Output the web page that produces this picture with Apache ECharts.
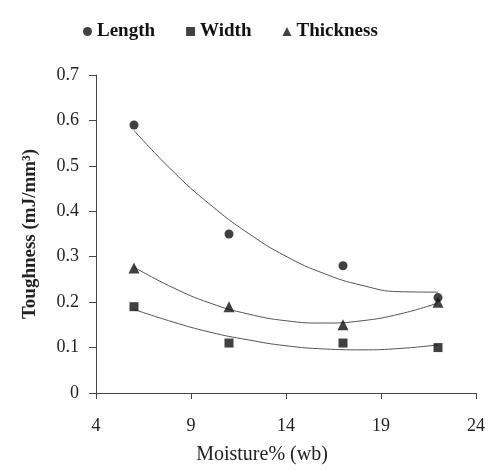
<!DOCTYPE html>
<html>
<head>
<meta charset="utf-8">
<script src="https://cdn.jsdelivr.net/npm/echarts@6/dist/echarts.min.js"></script>
<style>
  html, body { margin: 0; padding: 0; background: #fff; }
  #chart { width: 488px; height: 470px; }
</style>
</head>
<body>
<div id="chart"></div>
<script>
// measured points (moisture % wb vs toughness)
const moisture = [6, 11, 17, 22];
const lengthVals = [0.59, 0.35, 0.28, 0.21];
const widthVals = [0.19, 0.11, 0.11, 0.10];
const thickVals = [0.275, 0.19, 0.15, 0.20];

// trend curves
const trendX = [6, 8, 10, 12, 14, 16, 18, 20, 22];
const lengthTrend = [0.578, 0.490, 0.415, 0.352, 0.301, 0.263, 0.237, 0.223, 0.222];
const widthTrend = [0.184, 0.157, 0.134, 0.117, 0.104, 0.097, 0.095, 0.098, 0.106];
const thickTrend = [0.277, 0.233, 0.198, 0.174, 0.159, 0.154, 0.159, 0.174, 0.198];

const font = 'Liberation Serif';
const pair = (xs, ys) => xs.map((x, i) => [x, ys[i]]);

const chart = echarts.init(document.getElementById('chart'));

function trendSeries(vals) {
  return {
    type: 'line',
    data: pair(trendX, vals),
    smooth: true,
    showSymbol: false,
    silent: true,
    lineStyle: { color: '#555', width: 1 },
    z: 1
  };
}

const option = {
  animation: false,
  backgroundColor: '#fff',
  textStyle: { fontFamily: font },
  legend: {
    top: 17,
    left: 78,
    itemGap: 31,
    itemWidth: 9,
    itemHeight: 9,
    textStyle: { fontFamily: font, fontSize: 19, fontWeight: 'bold', color: '#111' },
    data: [
      { name: 'Length', icon: 'circle' },
      { name: 'Width', icon: 'rect' },
      { name: 'Thickness', icon: 'triangle' }
    ]
  },
  grid: { left: 96, right: 10, top: 75, bottom: 77 },
  xAxis: {
    type: 'value',
    min: 4,
    max: 24,
    interval: 5,
    name: 'Moisture% (wb)',
    nameLocation: 'middle',
    nameGap: 52,
    nameTextStyle: { fontFamily: font, fontSize: 20, color: '#222', padding: [0, 48, 0, 0] },
    axisLine: { lineStyle: { color: '#444', width: 1 } },
    axisTick: { show: true, length: 6, lineStyle: { color: '#444' } },
    axisLabel: { fontFamily: font, fontSize: 18, color: '#222', margin: 24 },
    splitLine: { show: false }
  },
  yAxis: {
    type: 'value',
    min: 0,
    max: 0.7,
    interval: 0.1,
    name: 'Toughness (mJ/mm³)',
    nameLocation: 'middle',
    nameGap: 56,
    nameTextStyle: { fontFamily: font, fontSize: 19, fontWeight: 'bold', color: '#222' },
    axisLine: { show: true, lineStyle: { color: '#444', width: 1 } },
    axisTick: { show: true, length: 7, lineStyle: { color: '#444' } },
    axisLabel: { fontFamily: font, fontSize: 18, color: '#222', margin: 17 },
    splitLine: { show: false }
  },
  series: [
    trendSeries(lengthTrend),
    trendSeries(widthTrend),
    trendSeries(thickTrend),
    {
      name: 'Length', type: 'scatter', symbol: 'circle', symbolSize: 9,
      itemStyle: { color: '#111' }, data: pair(moisture, lengthVals), z: 3
    },
    {
      name: 'Width', type: 'scatter', symbol: 'rect', symbolSize: 9,
      itemStyle: { color: '#111' }, data: pair(moisture, widthVals), z: 3
    },
    {
      name: 'Thickness', type: 'scatter', symbol: 'triangle', symbolSize: 11,
      itemStyle: { color: '#111' }, data: pair(moisture, thickVals), z: 3
    }
  ]
};

chart.setOption(option);
</script>
</body>
</html>
